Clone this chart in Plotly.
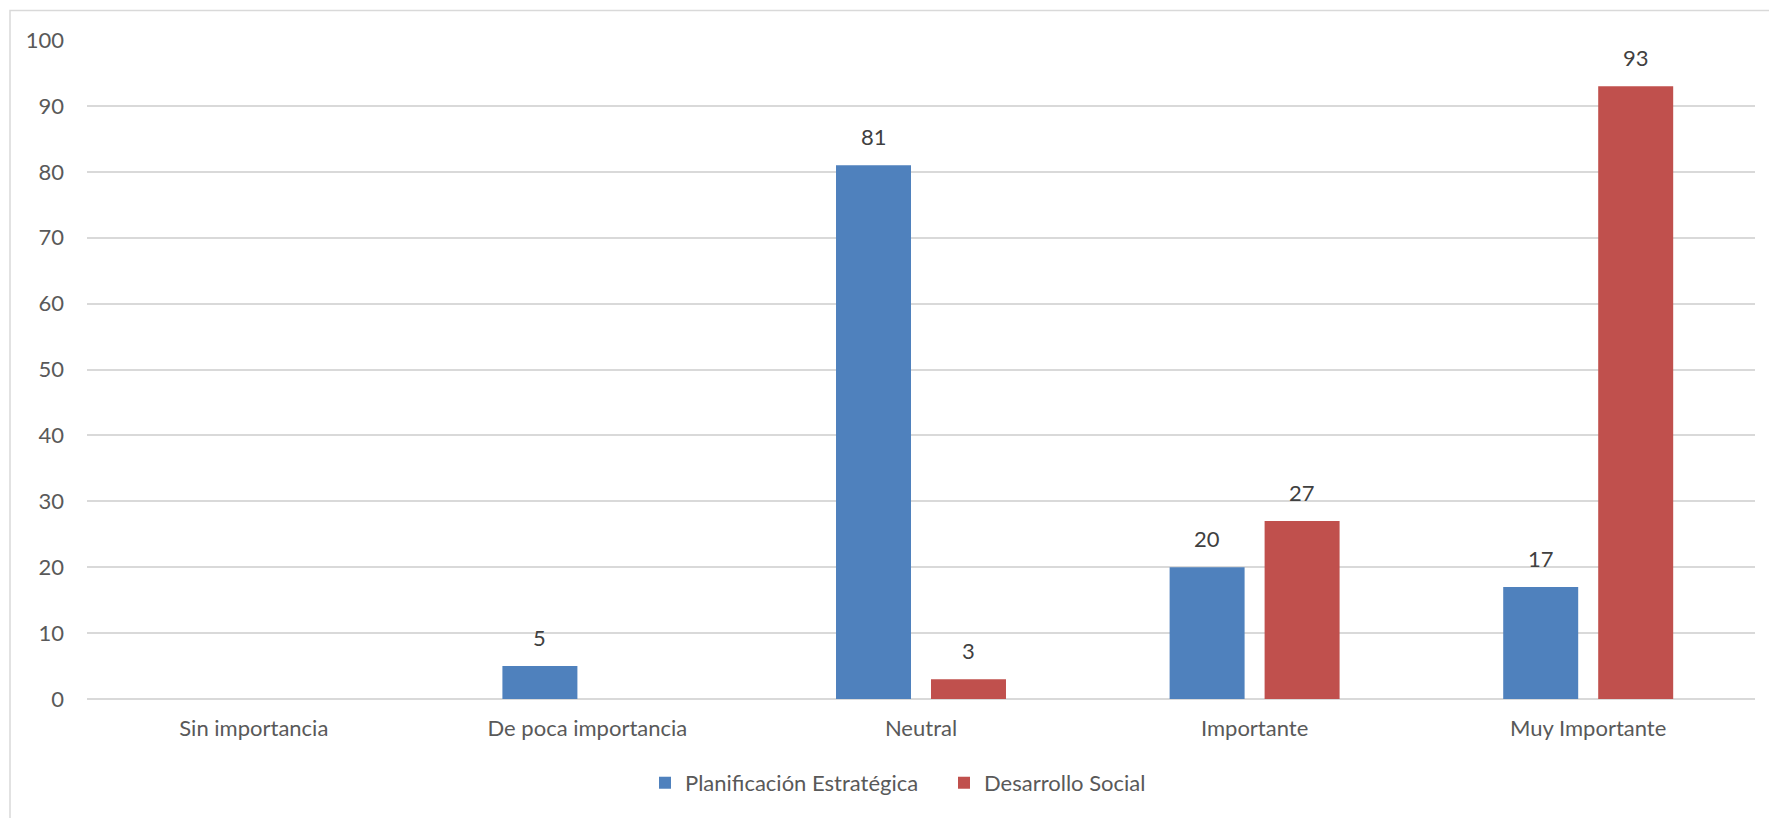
import plotly.graph_objects as go

categories = ["Sin importancia", "De poca importancia", "Neutral", "Importante", "Muy Importante"]
planificacion = [None, 5, 81, 20, 17]
desarrollo = [None, None, 3, 27, 93]
series_names = ["Planificación Estratégica", "Desarrollo Social"]
y_ticks = [0, 10, 20, 30, 40, 50, 60, 70, 80, 90, 100]

W, H = 1769, 818
ml, mr, mt, mb = 87, 14, 39.5, 119
pw, ph = W - ml - mr, H - mt - mb

FONT = "Lato"
BAR_OFFSET = 47.5  # pixel offset of each bar centre from category centre

fig = go.Figure()
fig.add_trace(go.Bar(
    x=categories, y=planificacion, name=series_names[0],
    marker=dict(color="#4F81BD", line=dict(width=0)),
))
fig.add_trace(go.Bar(
    x=categories, y=desarrollo, name=series_names[1],
    marker=dict(color="#C0504D", line=dict(width=0)),
))

annotations = []
for vals, shift in ((planificacion, -BAR_OFFSET), (desarrollo, BAR_OFFSET)):
    for c, v in zip(categories, vals):
        if v is None:
            continue
        annotations.append(dict(
            x=c, y=v, xref="x", yref="y", text=str(v), showarrow=False,
            xshift=shift, yshift=13, yanchor="bottom", xanchor="center",
            font=dict(family=FONT, size=22, color="#404040"),
        ))

def px_x(p):
    return (p - ml) / pw

def px_y(p):
    return (H - mb - p) / ph

fig.update_layout(
    width=W, height=H,
    margin=dict(l=ml, r=mr, t=mt, b=mb, autoexpand=False),
    paper_bgcolor="white", plot_bgcolor="white",
    barmode="group", bargap=0.4305, bargroupgap=0.2105,
    font=dict(family=FONT, size=22, color="#595959"),
    showlegend=True,
    legend=dict(
        orientation="h", x=px_x(645), xanchor="left", y=px_y(783), yanchor="middle",
        font=dict(family=FONT, size=22, color="#595959"),
        entrywidth=254, entrywidthmode="pixels",
        bgcolor="rgba(0,0,0,0)",
    ),
    xaxis=dict(
        showgrid=False, showline=False, ticks="", tickfont=dict(size=22, color="#595959"),
        ticklabelstandoff=14,
    ),
    yaxis=dict(
        range=[0, 100], tickvals=y_ticks, showgrid=True, gridcolor="#D9D9D9", gridwidth=1.5,
        zeroline=True, zerolinecolor="#D9D9D9", zerolinewidth=1.5,
        showline=False, ticks="", tickfont=dict(size=22, color="#595959"),
        ticklabelstandoff=22,
    ),
    annotations=annotations,
    shapes=[dict(
        type="rect", xref="paper", yref="paper",
        x0=px_x(10), x1=px_x(W + 20), y0=px_y(H + 20), y1=px_y(10),
        line=dict(color="#D9D9D9", width=1.5), fillcolor="rgba(0,0,0,0)", layer="below",
    )],
)

fig.write_html(
    "out.html",
    config={"displayModeBar": False},
    post_script="document.body.style.margin='0';document.body.style.overflow='hidden';",
)
